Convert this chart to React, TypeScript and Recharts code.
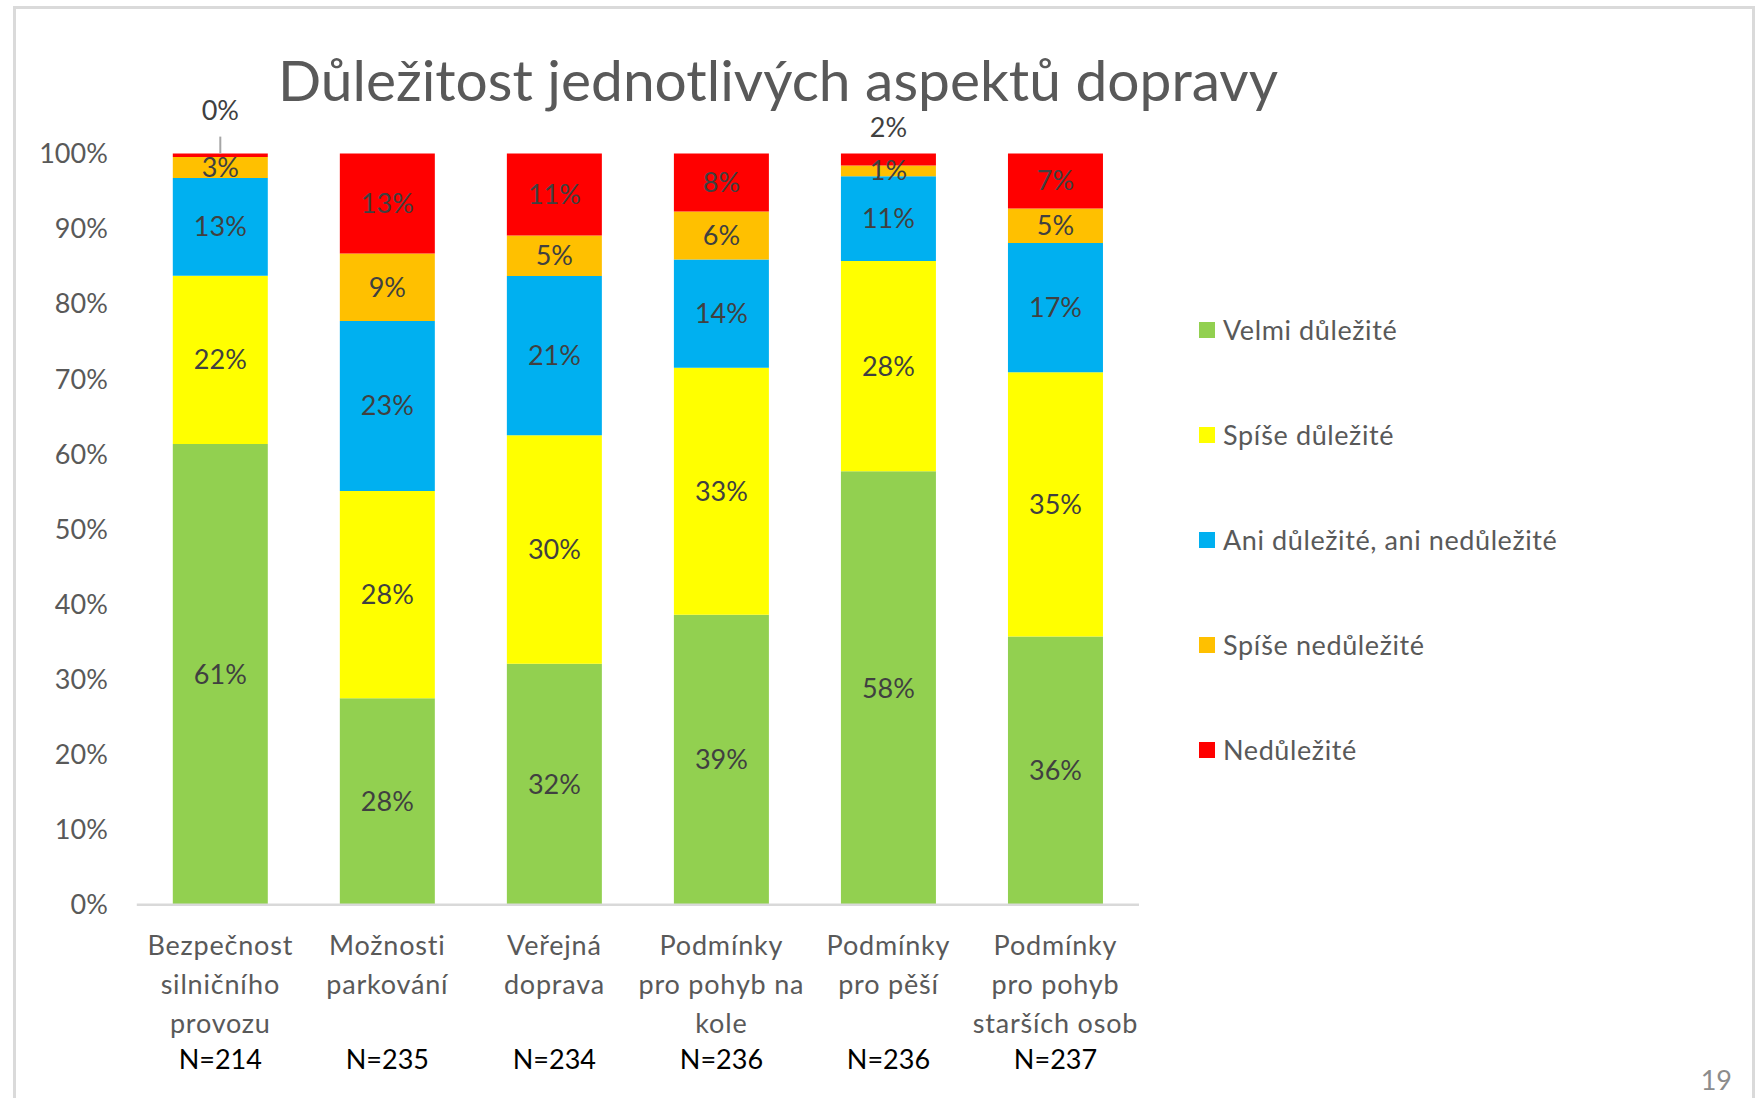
import React from 'react'
import { BarChart, Bar, XAxis, YAxis, Legend, LabelList } from 'recharts'

const categoryLines = [
  ['Bezpečnost', 'silničního', 'provozu'],
  ['Možnosti', 'parkování'],
  ['Veřejná', 'doprava'],
  ['Podmínky', 'pro pohyb na', 'kole'],
  ['Podmínky', 'pro pěší'],
  ['Podmínky', 'pro pohyb', 'starších osob'],
]
const sampleSizes = [214, 235, 234, 236, 236, 237]

// shares in %, per category
const velmiDulezite = [61.35, 27.5, 32.1, 38.6, 57.7, 35.7]
const spiseDulezite = [22.4, 27.6, 30.4, 32.9, 28.0, 35.2]
const aniAni = [13.0, 22.6, 21.2, 14.4, 11.3, 17.2]
const spiseNedulezite = [2.8, 9.0, 5.4, 6.4, 1.4, 4.6]
const nedulezite = [0.45, 13.3, 10.9, 7.7, 1.6, 7.3]

const yTicks = [0, 10, 20, 30, 40, 50, 60, 70, 80, 90, 100]

const series = [
  { key: 'velmi', name: 'Velmi důležité', color: '#92D050', values: velmiDulezite },
  { key: 'spise', name: 'Spíše důležité', color: '#FFFF00', values: spiseDulezite },
  { key: 'ani', name: 'Ani důležité, ani nedůležité', color: '#00B0F0', values: aniAni },
  { key: 'spiseNe', name: 'Spíše nedůležité', color: '#FFC000', values: spiseNedulezite },
  { key: 'ne', name: 'Nedůležité', color: '#FF0000', values: nedulezite },
]

const rows = categoryLines.map((lines, i) => {
  const row: Record<string, string | number> = { name: lines.join(' '), n: sampleSizes[i] }
  series.forEach((s) => {
    row[s.key] = s.values[i]
  })
  return row
})

const FONT = 'Lato, "Open Sans", sans-serif'
const GREY = '#595959'
const LABEL = '#404040'

function CategoryTick(props: any) {
  const { x, payload, index } = props
  const axisY = 904.8
  const idx = index ?? payload.index
  const lines = categoryLines[idx] || []
  return (
    <g>
      <text x={x} y={axisY + 50.5} textAnchor="middle" fill={GREY} fontSize={27} fontFamily={FONT} letterSpacing={0.8}>
        {lines.map((l, i) => (
          <tspan key={i} x={x} dy={i === 0 ? 0 : 38.6}>
            {l}
          </tspan>
        ))}
      </text>
      <text x={x} y={axisY + 164} textAnchor="middle" fill="#000" fontSize={27} fontFamily={FONT}>
        N={sampleSizes[idx]}
      </text>
    </g>
  )
}

// all segment labels of one column, drawn from the top series so they sit above every bar
function ColumnLabels(props: any) {
  const { x, y, width, height, index } = props
  const topVal = nedulezite[index]
  const h = Math.abs(Number(height))
  const top = Math.min(Number(y), Number(y) + Number(height))
  const px = h / topVal
  const total = series.reduce((a, s) => a + s.values[index], 0)
  const base = top + total * px
  const cx = Number(x) + Number(width) / 2
  let low = 0
  const out: React.ReactNode[] = []
  series.forEach((s, j) => {
    const v = s.values[index]
    const mid = base - (low + v / 2) * px
    low += v
    const pct = `${Math.round(v)}%`
    if (j === series.length - 1 && v < 3) {
      const zero = Math.round(v) === 0
      const ly = zero ? top - 43 : top - 26
      if (zero) out.push(<line key="lead" x1={cx} x2={cx} y1={top - 17} y2={top} stroke="#a6a6a6" strokeWidth={2} />)
      out.push(
        <text key={s.key} x={cx} y={ly} dy="0.35em" textAnchor="middle" fill={LABEL} fontSize={27} fontFamily={FONT}>
          {pct}
        </text>
      )
      return
    }
    out.push(
      <text key={s.key} x={cx} y={mid} dy="0.35em" textAnchor="middle" fill={LABEL} fontSize={27} fontFamily={FONT}>
        {pct}
      </text>
    )
  })
  return <g>{out}</g>
}

function LegendBox() {
  return (
    <div style={{ fontFamily: FONT }}>
      {series.map((s) => (
        <div key={s.key} style={{ height: 105, display: 'flex', alignItems: 'center' }}>
          <span style={{ width: 16, height: 16, background: s.color, display: 'inline-block', marginRight: 8 }} />
          <span style={{ fontSize: 27, color: GREY, whiteSpace: 'nowrap', letterSpacing: 0.6 }}>{s.name}</span>
        </div>
      ))}
    </div>
  )
}

export default function App() {
  return (
    <div style={{ position: 'absolute', left: 0, top: 0, width: 1758, height: 1098, overflow: 'hidden', background: '#fff' }}>
      <div
        style={{
          position: 'absolute',
          left: 13,
          top: 6,
          width: 1736,
          height: 1200,
          border: '3px solid #dadada',
        }}
      />
      <div style={{ position: 'absolute', left: 0, top: 0 }}>
        <BarChart
          width={1758}
          height={1098}
          data={rows}
          margin={{ top: 153.6, right: 619, bottom: 0, left: 76.8 }}
          barSize={95}
        >
          <XAxis
            dataKey="name"
            height={193.2}
            interval={0}
            tickLine={false}
            tickSize={0}
            tickMargin={0}
            axisLine={{ stroke: '#d9d9d9', strokeWidth: 2.5 }}
            tick={<CategoryTick />}
          />
          <YAxis
            width={60}
            domain={[0, 100]}
            ticks={yTicks}
            tickFormatter={(v: number) => `${v}%`}
            axisLine={false}
            tickLine={false}
            tickSize={0}
            tickMargin={29}
            tick={{ fill: GREY, fontSize: 27, fontFamily: FONT }}
          />
          <Legend
            layout="vertical"
            align="center"
            verticalAlign="middle"
            content={() => <LegendBox />}
            wrapperStyle={{ position: 'absolute', left: 1199, top: 277, width: 500 }}
          />
          {series.map((s, i) => (
            <Bar key={s.key} dataKey={s.key} name={s.name} stackId="a" fill={s.color} isAnimationActive={false}>
              {i === series.length - 1 && <LabelList dataKey={s.key} content={(p: any) => <ColumnLabels {...p} />} />}
            </Bar>
          ))}
        </BarChart>
      </div>
      <svg width={1758} height={1098} style={{ position: 'absolute', left: 0, top: 0, pointerEvents: 'none' }}>
        <text
          x={778}
          y={101}
          textAnchor="middle"
          fill={GREY}
          fontSize={56}
          fontFamily={FONT}
          textLength={1000}
          lengthAdjust="spacingAndGlyphs"
        >
          Důležitost jednotlivých aspektů dopravy
        </text>
        <text x={1732} y={1090} textAnchor="end" fill="#8c8c8c" fontSize={27} fontFamily={FONT}>
          19
        </text>
      </svg>
    </div>
  )
}
